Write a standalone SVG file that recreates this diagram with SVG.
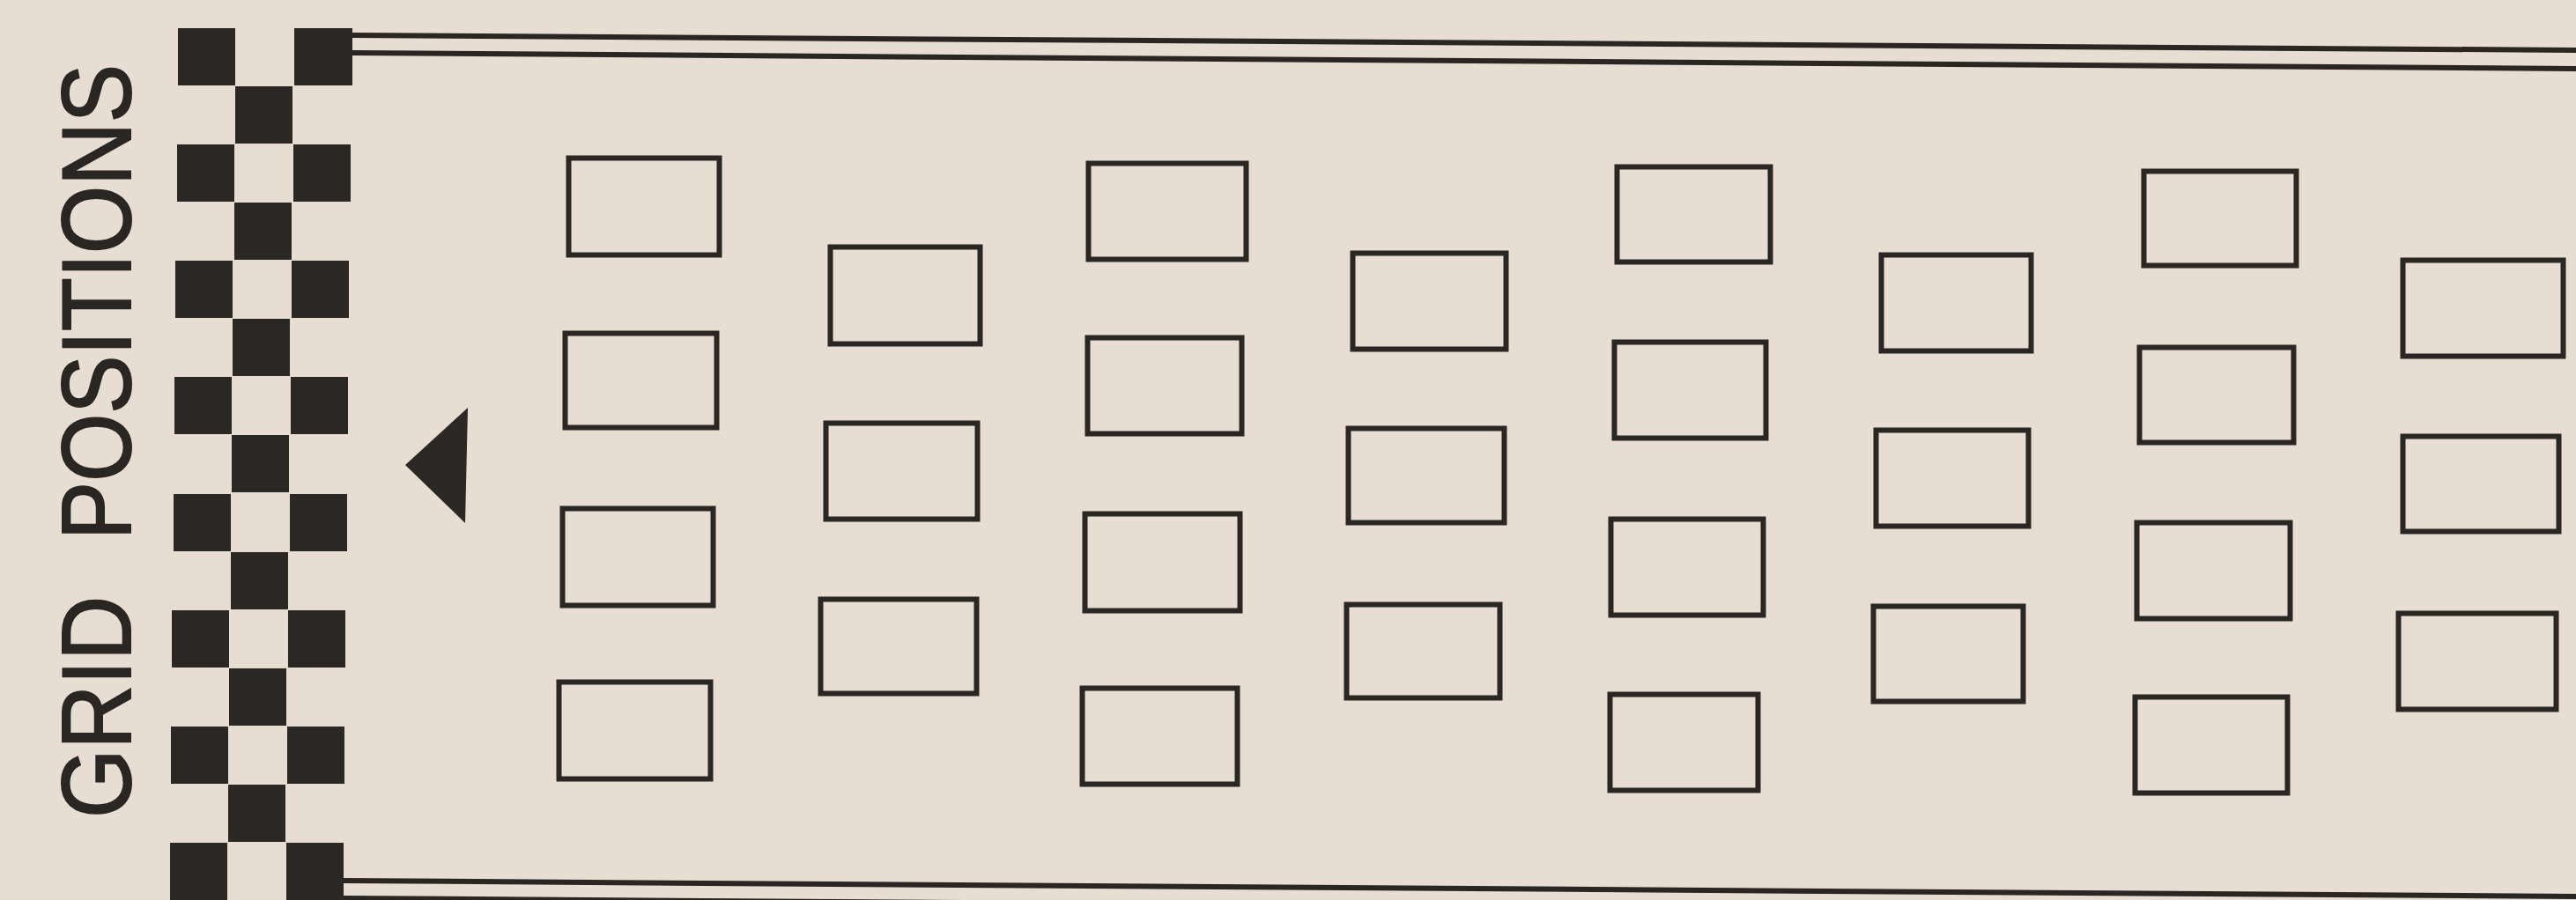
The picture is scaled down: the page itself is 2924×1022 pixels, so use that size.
<svg xmlns="http://www.w3.org/2000/svg" width="2924" height="1022" viewBox="0 0 2924 1022">
  <style>
    .bg { fill: #e7ddd3; }
    .sq { fill: #2c2826; }
    .box { fill: none; stroke: #2a2624; stroke-width: 6; }
    .rule { stroke: #2a2624; stroke-width: 6; fill: none; }
    .lbl { font-family: "Liberation Sans", "DejaVu Sans", sans-serif; font-size: 112px; fill: #2a2624; stroke: #2a2624; stroke-width: 2; }
  </style>
  <rect class="bg" x="0" y="0" width="2924" height="1022"/>

  <g id="title">
    <text class="lbl" transform="translate(148,929) rotate(-90)" textLength="252" lengthAdjust="spacingAndGlyphs">GRID</text>
    <text class="lbl" transform="translate(148,613) rotate(-90)" textLength="540" lengthAdjust="spacingAndGlyphs">POSITIONS</text>
  </g>

  <g id="checkerboard">
    <rect class="sq" x="202" y="32" width="65" height="65"/>
    <rect class="sq" x="334" y="32" width="66" height="65"/>
    <rect class="sq" x="267" y="98" width="65" height="65"/>
    <rect class="sq" x="201" y="164" width="65" height="65"/>
    <rect class="sq" x="333" y="164" width="65" height="65"/>
    <rect class="sq" x="266" y="230" width="65" height="65"/>
    <rect class="sq" x="199" y="296" width="65" height="65"/>
    <rect class="sq" x="331" y="296" width="65" height="65"/>
    <rect class="sq" x="264" y="362" width="65" height="65"/>
    <rect class="sq" x="198" y="428" width="65" height="65"/>
    <rect class="sq" x="330" y="428" width="65" height="65"/>
    <rect class="sq" x="263" y="494" width="65" height="65"/>
    <rect class="sq" x="197" y="561" width="65" height="65"/>
    <rect class="sq" x="329" y="561" width="65" height="65"/>
    <rect class="sq" x="262" y="627" width="65" height="65"/>
    <rect class="sq" x="195" y="693" width="65" height="65"/>
    <rect class="sq" x="327" y="693" width="65" height="65"/>
    <rect class="sq" x="260" y="759" width="65" height="65"/>
    <rect class="sq" x="194" y="825" width="65" height="65"/>
    <rect class="sq" x="326" y="825" width="65" height="65"/>
    <rect class="sq" x="259" y="891" width="65" height="65"/>
    <rect class="sq" x="193" y="957" width="65" height="65"/>
    <rect class="sq" x="325" y="957" width="65" height="65"/>
  </g>

  <g id="rules">
    <line class="rule" x1="400" y1="40" x2="2924" y2="57"/>
    <line class="rule" x1="400" y1="60" x2="2924" y2="78"/>
    <line class="rule" x1="390" y1="1000" x2="2924" y2="1018"/>
    <line class="rule" x1="390" y1="1020" x2="2924" y2="1038"/>
  </g>

  <g id="marker-arrow">
    <polygon points="460,528 531,463 528,594" fill="#2c2826"/>
  </g>

  <g id="connectors"></g>

  <g id="grid-boxes">
    <g id="box-c1-1"><rect class="box" x="645.5" y="179.5" width="171" height="110"/></g>
    <g id="box-c1-2"><rect class="box" x="641.5" y="378.5" width="172" height="107"/></g>
    <g id="box-c1-3"><rect class="box" x="638.5" y="577.5" width="171" height="110"/></g>
    <g id="box-c1-4"><rect class="box" x="634.5" y="774.5" width="172" height="110"/></g>

    <g id="box-c2-1"><rect class="box" x="942.5" y="280.5" width="170" height="110"/></g>
    <g id="box-c2-2"><rect class="box" x="937.5" y="480.5" width="172" height="109"/></g>
    <g id="box-c2-3"><rect class="box" x="931.5" y="680.5" width="177" height="107"/></g>

    <g id="box-c3-1"><rect class="box" x="1235.5" y="185.5" width="179" height="109"/></g>
    <g id="box-c3-2"><rect class="box" x="1234.5" y="383.5" width="175" height="109"/></g>
    <g id="box-c3-3"><rect class="box" x="1231.5" y="583.5" width="176" height="110"/></g>
    <g id="box-c3-4"><rect class="box" x="1228.5" y="781.5" width="176" height="109"/></g>

    <g id="box-c4-1"><rect class="box" x="1535.5" y="287.5" width="174" height="109"/></g>
    <g id="box-c4-2"><rect class="box" x="1530.5" y="486.5" width="177" height="107"/></g>
    <g id="box-c4-3"><rect class="box" x="1528.5" y="686.5" width="174" height="106"/></g>

    <g id="box-c5-1"><rect class="box" x="1835.5" y="189.5" width="174" height="108"/></g>
    <g id="box-c5-2"><rect class="box" x="1832.5" y="388.5" width="172" height="109"/></g>
    <g id="box-c5-3"><rect class="box" x="1828.5" y="589.5" width="173" height="109"/></g>
    <g id="box-c5-4"><rect class="box" x="1827.5" y="788.5" width="168" height="109"/></g>

    <g id="box-c6-1"><rect class="box" x="2135.5" y="289.5" width="170" height="109"/></g>
    <g id="box-c6-2"><rect class="box" x="2129.5" y="488.5" width="173" height="109"/></g>
    <g id="box-c6-3"><rect class="box" x="2126.5" y="688.5" width="170" height="108"/></g>

    <g id="box-c7-1"><rect class="box" x="2433.5" y="194.5" width="173" height="107"/></g>
    <g id="box-c7-2"><rect class="box" x="2428.5" y="394.5" width="175" height="108"/></g>
    <g id="box-c7-3"><rect class="box" x="2425.5" y="593.5" width="174" height="109"/></g>
    <g id="box-c7-4"><rect class="box" x="2423.5" y="791.5" width="173" height="109"/></g>

    <g id="box-c8-1"><rect class="box" x="2727.5" y="295.5" width="182" height="109"/></g>
    <g id="box-c8-2"><rect class="box" x="2727.5" y="495.5" width="177" height="108"/></g>
    <g id="box-c8-3"><rect class="box" x="2722.5" y="696.5" width="179" height="109"/></g>
  </g>
</svg>
